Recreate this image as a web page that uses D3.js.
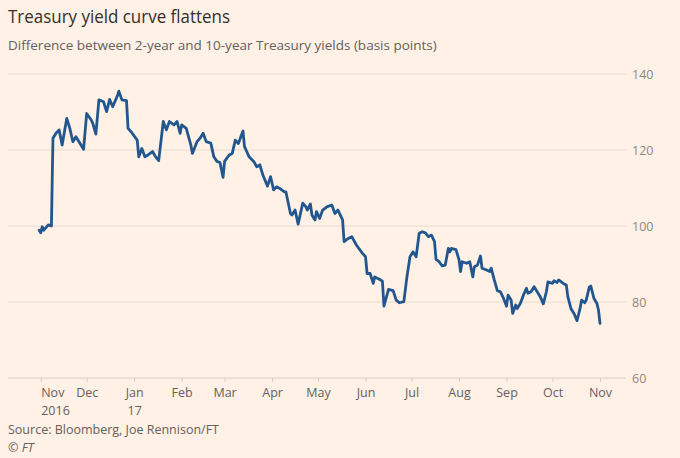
<!DOCTYPE html>
<html>
<head>
<meta charset="utf-8">
<script src="https://cdn.jsdelivr.net/npm/d3@7"></script>
<style>
  html, body { margin: 0; padding: 0; background: #fff1e5; }
  svg { display: block; }
</style>
</head>
<body>
<svg id="chart" width="680" height="458"></svg>
<script>
const title = "Treasury yield curve flattens";
const subtitle = "Difference between 2-year and 10-year Treasury yields (basis points)";
const source = "Source: Bloomberg, Joe Rennison/FT";
const copyright = "© FT";

const yTicks = [60, 80, 100, 120, 140];
const monthTicks = ["2016-11-01","2016-12-01","2017-01-01","2017-02-01","2017-03-01","2017-04-01","2017-05-01","2017-06-01","2017-07-01","2017-08-01","2017-09-01","2017-10-01","2017-11-01"];
const monthLabels = ["Nov","Dec","Jan","Feb","Mar","Apr","May","Jun","Jul","Aug","Sep","Oct","Nov"];
const yearLabels = ["2016","","17","","","","","","","","","",""];

const dates = [
"2016-10-31","2016-11-01","2016-11-02","2016-11-03","2016-11-06","2016-11-08","2016-11-09","2016-11-11","2016-11-13","2016-11-15",
"2016-11-18","2016-11-20","2016-11-22","2016-11-24","2016-11-29","2016-12-01","2016-12-04","2016-12-05","2016-12-07","2016-12-09",
"2016-12-12","2016-12-14","2016-12-16","2016-12-18","2016-12-21","2016-12-22","2016-12-24","2016-12-27","2016-12-28","2016-12-30",
"2017-01-03","2017-01-04","2017-01-06","2017-01-08","2017-01-10","2017-01-13","2017-01-15","2017-01-17","2017-01-20","2017-01-22",
"2017-01-24","2017-01-27","2017-01-29","2017-01-31","2017-02-01","2017-02-04","2017-02-07","2017-02-08","2017-02-11","2017-02-13",
"2017-02-15","2017-02-17","2017-02-20","2017-02-22","2017-02-24","2017-02-26","2017-02-28","2017-03-01","2017-03-04","2017-03-06",
"2017-03-08","2017-03-10","2017-03-13","2017-03-14","2017-03-15","2017-03-17","2017-03-20","2017-03-22","2017-03-24","2017-03-26",
"2017-03-29","2017-03-31","2017-04-02","2017-04-04","2017-04-06","2017-04-09","2017-04-10","2017-04-13","2017-04-14","2017-04-16",
"2017-04-18","2017-04-21","2017-04-23","2017-04-24","2017-04-26","2017-04-27","2017-04-29","2017-04-30","2017-05-02","2017-05-04",
"2017-05-07","2017-05-10","2017-05-12","2017-05-14","2017-05-17","2017-05-18","2017-05-21","2017-05-23","2017-05-26","2017-05-30",
"2017-06-01","2017-06-02","2017-06-04","2017-06-06","2017-06-07","2017-06-10","2017-06-12","2017-06-13","2017-06-16","2017-06-19",
"2017-06-21","2017-06-23","2017-06-26","2017-06-28","2017-06-30","2017-07-02","2017-07-04","2017-07-06","2017-07-08","2017-07-10",
"2017-07-12","2017-07-14","2017-07-16","2017-07-17","2017-07-19","2017-07-21","2017-07-23","2017-07-25","2017-07-26","2017-07-27",
"2017-07-30","2017-08-01","2017-08-02","2017-08-03","2017-08-06","2017-08-08","2017-08-10","2017-08-11","2017-08-13","2017-08-15",
"2017-08-16","2017-08-19","2017-08-21","2017-08-22","2017-08-24","2017-08-26","2017-08-28","2017-08-30","2017-09-01","2017-09-02",
"2017-09-04","2017-09-05","2017-09-07","2017-09-08","2017-09-10","2017-09-12","2017-09-14","2017-09-15","2017-09-17","2017-09-19",
"2017-09-21","2017-09-23","2017-09-25","2017-09-27","2017-09-28","2017-10-01","2017-10-02","2017-10-04","2017-10-05","2017-10-08",
"2017-10-10","2017-10-11","2017-10-13","2017-10-15","2017-10-17","2017-10-19","2017-10-20","2017-10-22","2017-10-23","2017-10-25",
"2017-10-26","2017-10-28","2017-10-30","2017-10-31","2017-11-01"
];
const spread = [
98.9,98.2,99.8,98.9,100.3,100.0,123.1,124.4,125.3,121.3,
128.3,125.7,122.2,123.5,120.2,129.6,127.9,127.0,124.2,133.2,
132.7,130.1,133.3,131.4,134.2,135.5,133.2,133.0,125.7,124.8,
122.6,118.2,120.4,118.2,118.7,119.6,118.2,117.2,127.5,125.3,
127.5,126.6,127.5,124.4,126.6,125.7,121.3,119.1,122.2,123.1,
124.4,122.2,121.8,118.2,117.0,116.7,112.8,117.0,118.7,119.1,
122.6,121.7,125.0,120.9,120.0,118.2,117.0,115.6,116.1,113.4,
110.5,113.0,109.5,110.3,109.9,109.0,109.0,103.3,102.9,104.2,
100.5,106.0,105.1,104.2,105.8,102.9,101.6,103.8,102.0,104.2,
105.1,105.5,103.3,104.2,101.6,95.9,96.8,97.2,95.0,92.8,
91.9,87.5,87.5,84.9,86.6,86.0,85.5,78.9,83.3,83.0,
80.5,79.8,80.1,86.6,91.9,93.2,91.9,98.1,98.5,98.2,
97.2,97.6,95.9,91.2,90.6,89.5,89.7,94.1,93.2,94.1,
93.8,91.1,88.0,90.6,90.2,90.6,86.6,89.3,89.7,92.1,
88.9,88.4,88.0,88.9,85.8,83.0,82.7,81.0,78.9,81.8,
80.5,77.0,79.2,78.3,79.6,81.8,83.6,82.3,82.7,84.0,
82.7,81.4,79.5,82.7,85.3,84.9,85.6,85.1,85.8,84.9,
84.5,81.4,78.3,77.0,75.1,78.3,80.5,79.8,80.5,83.9,
84.2,81.0,79.6,77.9,74.4
];

const parse = d3.timeParse("%Y-%m-%d");
const data = dates.map((d, i) => ({ date: parse(d), value: spread[i] }));
const ticks = monthTicks.map(parse);

const svg = d3.select("#chart");
const font = "'Open Sans', 'Noto Sans', sans-serif";

const x = d3.scaleTime()
  .domain([parse("2016-11-01"), parse("2017-11-01")])
  .range([40.7, 600]);
const y = d3.scaleLinear().domain([60, 140]).range([378, 74]);

const gridLeft = 8, gridRight = 626;

function fitText(sel, maxW) {
  const w = sel.node().getComputedTextLength();
  if (w > maxW) sel.attr("textLength", maxW).attr("lengthAdjust", "spacingAndGlyphs");
}
const t1 = svg.append("text").attr("x", 8).attr("y", 23)
  .attr("font-family", font).attr("font-size", 18).attr("fill", "#33302e")
  .text(title);
fitText(t1, 222);
const t2 = svg.append("text").attr("x", 8).attr("y", 50)
  .attr("font-family", font).attr("font-size", 13.5).attr("fill", "#66605c")
  .text(subtitle);
fitText(t2, 438);

// Gridlines
const grid = svg.append("g");
grid.selectAll("line").data(yTicks).join("line")
  .attr("x1", gridLeft).attr("x2", gridRight)
  .attr("y1", d => y(d)).attr("y2", d => y(d))
  .attr("stroke", d => d === 60 ? "#d9ccc1" : "#eadcd1")
  .attr("stroke-width", 1);

// Y axis labels (right)
const yAxis = d3.axisRight(y).tickValues(yTicks).tickSize(0).tickPadding(0);
const gy = svg.append("g").attr("transform", `translate(${gridRight + 6},0)`).call(yAxis);
gy.select(".domain").remove();
gy.selectAll("text").attr("font-family", font).attr("font-size", 12.5).attr("fill", "#8e8784");

// X axis
const xAxis = d3.axisBottom(x).tickValues(ticks).tickSize(4).tickFormat((d, i) => monthLabels[i]);
const gx = svg.append("g").attr("transform", `translate(0,${y(60)})`).call(xAxis);
gx.select(".domain").remove();
gx.selectAll(".tick line").attr("stroke", "#d9ccc1");
gx.selectAll(".tick text")
  .attr("font-family", font).attr("font-size", 12.5).attr("fill", "#66605c")
  .attr("dy", 0).attr("y", 19)
  .attr("text-anchor", (d, i) => i === 0 ? "start" : "middle");
gx.selectAll(".tick").each(function(d, i) {
  if (yearLabels[i]) {
    d3.select(this).append("text")
      .attr("y", 37).attr("fill", "#66605c")
      .attr("font-family", font).attr("font-size", 12.5)
      .attr("text-anchor", i === 0 ? "start" : "middle")
      .text(yearLabels[i]);
  }
});

// Line
const line = d3.line().x(d => x(d.date)).y(d => y(d.value)).curve(d3.curveLinear);
svg.append("path").datum(data)
  .attr("d", line)
  .attr("fill", "none")
  .attr("stroke", "#22568f")
  .attr("stroke-width", 2.8)
  .attr("stroke-linejoin", "round")
  .attr("stroke-linecap", "round");

// Source
svg.append("text").attr("x", 8).attr("y", 434)
  .attr("font-family", font).attr("font-size", 12.5).attr("fill", "#66605c")
  .text(source);
svg.append("text").attr("x", 8).attr("y", 452)
  .attr("font-family", font).attr("font-size", 12.5).attr("font-style", "italic").attr("fill", "#66605c")
  .text(copyright);
</script>
</body>
</html>
